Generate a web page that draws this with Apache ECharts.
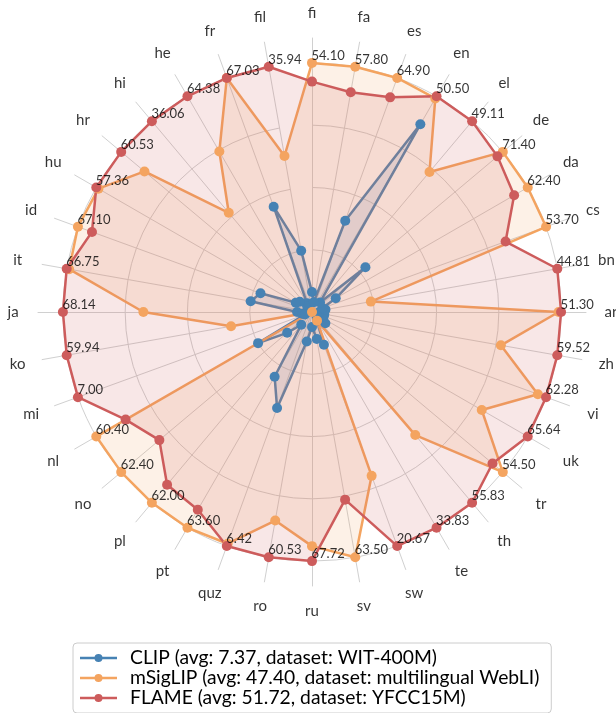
<!DOCTYPE html>
<html><head><meta charset="utf-8">
<script src="https://cdn.jsdelivr.net/npm/echarts@6/dist/echarts.min.js"></script>
<style>html,body{margin:0;padding:0;background:#fff}#c{width:616px;height:713px}</style>
</head><body><div id="c"></div>
<script>
// Languages, clockwise from the top
const categories = ['fi','fa','es','en','el','de','da','cs','bn','ar','zh','vi','uk','tr','th','te','sw','sv','ru','ro','quz','pt','pl','no','nl','mi','ko','ja','it','id','hu','hr','hi','he','fr','fil'];
// Best score per language (annotated on the chart)
const bestScores = [54.10,57.80,64.90,50.50,49.11,71.40,62.40,53.70,44.81,51.30,59.52,62.28,65.64,54.50,55.83,33.83,20.67,63.50,67.72,60.53,6.42,63.60,62.00,62.40,60.40,7.00,59.94,68.14,66.75,67.10,57.36,60.53,36.06,64.38,67.03,35.94];
// Scores relative to the best score of each language
const clipRel = [0.08,0.04,0.39,0.87,0.05,0.28,0.11,0.045,0.055,0.03,0.05,0.05,0.04,0.07,0.03,0.04,0.14,0.11,0.06,0.12,0.41,0.30,0.067,0.13,0.25,0.03,0.04,0.06,0.25,0.22,0.075,0.064,0.03,0.04,0.45,0.25];
const msiglipRel = [1.0,1.0,1.0,0.99,0.734,1.0,1.0,1.0,0.24,0.99,0.77,0.965,0.787,1.0,0.645,0.04,0.70,1.0,0.94,0.85,0.99,1.0,1.0,1.0,1.0,0.0,0.33,0.677,0.99,1.0,0.99,0.878,0.52,0.744,1.0,0.636];
const flameRel = [0.925,0.896,0.917,1.0,1.0,0.972,0.937,0.827,1.0,1.0,1.0,1.0,1.0,0.946,1.0,1.0,1.0,0.765,1.0,1.0,1.0,0.917,0.905,0.80,0.864,1.0,1.0,1.0,1.0,0.94,1.0,1.0,1.0,1.0,1.0,1.0];
const seriesNames = ['CLIP (avg: 7.37, dataset: WIT-400M)','mSigLIP (avg: 47.40, dataset: multilingual WebLI)','FLAME (avg: 51.72, dataset: YFCC15M)'];
const seriesValues = [clipRel, msiglipRel, flameRel];
const colors = ['#4682b4','#f4a460','#cd5c5c'];

const CX = 312, CY = 312, R = 274, RMAX = 1.1, LABEL_R = 1.2;
const n = categories.length;
// radar indicators run counter-clockwise; reorder so languages read clockwise
const order = categories.map((_, i) => (n - i) % n);
const reorder = arr => order.map(i => arr[i]);

const chart = echarts.init(document.getElementById('c'));
const legendIcon = 'path://M0 2.75 H37 V5.25 H0 Z M18.5 0 A4 4 0 1 1 18.5 8 A4 4 0 1 1 18.5 0 Z';

chart.setOption({
  animation: false,
  backgroundColor: '#fff',
  textStyle: { fontFamily: 'Lato' },
  radar: {
    center: [CX, CY], radius: R, startAngle: 90, shape: 'circle',
    indicator: order.map(i => ({ name: categories[i], min: 0, max: RMAX })),
    axisName: { show: false },
    splitNumber: 1,
    axisLine: { lineStyle: { color: '#d0d0d0', width: 1 } },
    splitLine: { show: false },
    splitArea: { show: false }
  },
  polar: { center: [CX, CY], radius: R },
  angleAxis: {
    type: 'category', data: categories, boundaryGap: false, startAngle: 90, clockwise: true,
    axisLine: { show: false }, axisTick: { show: false }, axisLabel: { show: false }, splitLine: { show: false }
  },
  radiusAxis: {
    min: 0, max: RMAX, interval: 0.25,
    axisLine: { show: false }, axisTick: { show: false }, axisLabel: { show: false },
    splitLine: { show: true, lineStyle: { color: ['#d0d0d0','#d0d0d0','#d0d0d0','#d0d0d0','#d0d0d0','rgba(0,0,0,0)'], width: 1 } }
  },
  legend: {
    orient: 'vertical', left: 73, top: 643, height: 90,
    padding: [5, 12, 5, 7],
    itemWidth: 37, itemHeight: 8, itemGap: 0,
    icon: legendIcon,
    borderColor: '#cccccc', borderWidth: 1, borderRadius: 4, backgroundColor: '#fff',
    textStyle: { fontSize: 19.3, color: '#000', lineHeight: 20, fontFamily: 'Lato', padding: [0, 0, 0, 8] },
    data: seriesNames
  },
  series: [
    {
      type: 'radar', radarIndex: 0, z: 3,
      data: seriesValues.map((v, k) => ({
        name: seriesNames[k], value: reorder(v),
        symbol: 'circle', symbolSize: 10,
        itemStyle: { color: colors[k] },
        lineStyle: { color: colors[k], width: 2.5 },
        areaStyle: { color: colors[k], opacity: 0.15 }
      }))
    },
    {
      type: 'scatter', coordinateSystem: 'polar', z: 5, silent: true, clip: false,
      symbol: 'circle', symbolSize: 1, itemStyle: { color: 'rgba(0,0,0,0)' },
      data: categories.map((c, i) => [Math.max(clipRel[i], msiglipRel[i], flameRel[i]), i]),
      label: {
        show: true, position: [0, 0], align: 'left', verticalAlign: 'bottom',
        color: '#000', fontSize: 13, fontFamily: 'Lato',
        formatter: p => bestScores[p.dataIndex].toFixed(2)
      }
    },
    {
      type: 'scatter', coordinateSystem: 'polar', z: 5, silent: true, clip: false,
      symbol: 'circle', symbolSize: 1, itemStyle: { color: 'rgba(0,0,0,0)' },
      data: categories.map((c, i) => [LABEL_R, i]),
      label: {
        show: true, position: 'inside', align: 'center', verticalAlign: 'middle',
        color: '#000', fontSize: 15, fontFamily: 'Lato',
        formatter: p => categories[p.dataIndex]
      }
    }
  ]
});
</script></body></html>
